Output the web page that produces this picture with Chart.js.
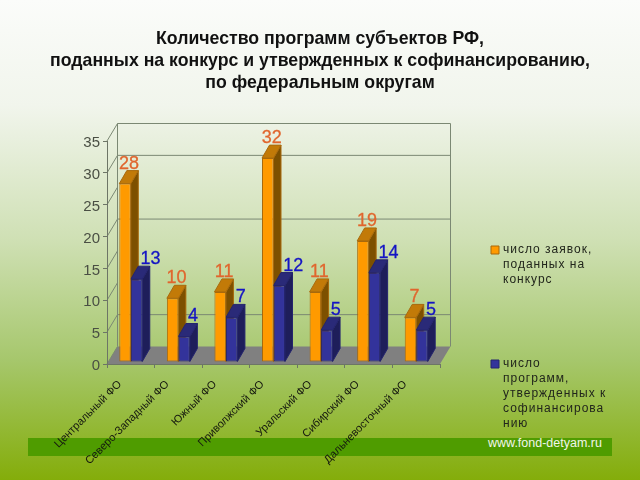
<!DOCTYPE html>
<html lang="ru">
<head>
<meta charset="utf-8">
<title>Программы субъектов РФ</title>
<script src="https://cdn.jsdelivr.net/npm/chart.js@4"></script>
<style>
  html, body { margin: 0; padding: 0; }
  body {
    width: 640px; height: 480px; position: relative; overflow: hidden;
    background: linear-gradient(to bottom, #fbfcfa 0%, #f1f5ec 22%, #cfe0b4 50%, #a6c76c 75%, #84ad0a 100%);
    font-family: "Liberation Sans", sans-serif;
  }
  #band { position: absolute; left: 28px; top: 438px; width: 584px; height: 18px; background: #4f9c00; }
  #site { position: absolute; left: 488px; top: 434px; font-size: 12.5px; line-height: 18px; color: #f2f6ea; }
  #chart { position: absolute; left: 0; top: 0; }
</style>
</head>
<body>
<div id="band"></div>
<div id="site">www.fond-detyam.ru</div>
<canvas id="chart" width="640" height="480"></canvas>
<script>
const okruga = ['Центральный ФО', 'Северо-Западный ФО', 'Южный ФО', 'Приволжский ФО', 'Уральский ФО', 'Сибирский ФО', 'Дальневосточный ФО'];
const zayavki = [28, 10, 11, 32, 11, 19, 7];
const utverzhdeno = [13, 4, 7, 12, 5, 14, 5];
const yTicks = [0, 5, 10, 15, 20, 25, 30, 35];
const wallLines = [5, 20, 30, 35];
const titleLines = ['Количество программ субъектов РФ,', 'поданных на конкурс и утвержденных к софинансированию,', 'по федеральным округам'];
const legendZayavki = ['число заявок,', 'поданных на', 'конкурс'];
const legendUtverzhdeno = ['число', 'программ,', 'утвержденных к', 'софинансирова', 'нию'];

// глубина "3D" стены и столбиков
const WALL_DX = 10.5, WALL_DY = -17.5;
const BAR_DX = 7.5, BAR_DY = -13;

const colors = [
    { front: '#ff9a00', border: '#a8690c', top: '#c27a08', side: '#7d5000', label: '#e0662e' },
    { front: '#33339b', border: '#24246e', top: '#2a2a78', side: '#1e1e5a', label: '#1414c4' }
];

function poly(ctx, pts, fill, stroke) {
    ctx.beginPath();
    pts.forEach((p, i) => i ? ctx.lineTo(p[0], p[1]) : ctx.moveTo(p[0], p[1]));
    ctx.closePath();
    if (fill) { ctx.fillStyle = fill; ctx.fill(); }
    if (stroke) { ctx.strokeStyle = stroke; ctx.lineWidth = 1; ctx.stroke(); }
}

function line(ctx, x1, y1, x2, y2) {
    ctx.beginPath();
    ctx.moveTo(x1, y1);
    ctx.lineTo(x2, y2);
    ctx.stroke();
}

// задняя стенка и пол
const wallPlugin = {
    id: 'wall',
    afterLayout(chart) {
        // заголовок по центру всего слайда, а не области графика
        chart.titleBlock.left = 0;
        chart.titleBlock.right = chart.width;
    },
    beforeDraw(chart) {
        const { ctx, chartArea: a, scales: { y } } = chart;
        const y0 = y.getPixelForValue(0);
        ctx.save();
        poly(ctx, [[a.left, y0], [a.left + WALL_DX, y0 + WALL_DY], [a.right + WALL_DX, y0 + WALL_DY], [a.right, y0]], '#808080');
        ctx.strokeStyle = '#7b8873';
        ctx.lineWidth = 1;
        yTicks.forEach(v => {
            const py = y.getPixelForValue(v);
            line(ctx, a.left, py, a.left + WALL_DX, py + WALL_DY);
        });
        wallLines.forEach(v => {
            const py = y.getPixelForValue(v) + WALL_DY;
            line(ctx, a.left + WALL_DX, py, a.right + WALL_DX, py);
        });
        const top = y.getPixelForValue(35) + WALL_DY;
        line(ctx, a.right + WALL_DX, top, a.right + WALL_DX, y0 + WALL_DY);
        line(ctx, a.left + WALL_DX, top, a.left + WALL_DX, y0 + WALL_DY);
        ctx.restore();
    }
};

// грани столбиков, подписи и легенда
const barsPlugin = {
    id: 'bars3d',
    beforeDatasetsDraw(chart) {
        const ctx = chart.ctx;
        ctx.save();
        ctx.translate(0, -2);
        chart.data.datasets.forEach((ds, i) => {
            const c = colors[i];
            chart.getDatasetMeta(i).data.forEach(bar => {
                const l = bar.x - bar.width / 2, r = bar.x + bar.width / 2;
                poly(ctx, [[r, bar.y], [r + BAR_DX, bar.y + BAR_DY], [r + BAR_DX, bar.base + BAR_DY], [r, bar.base]], c.side, c.border);
                poly(ctx, [[l, bar.y], [l + BAR_DX, bar.y + BAR_DY], [r + BAR_DX, bar.y + BAR_DY], [r, bar.y]], c.top, c.border);
            });
        });
    },
    afterDatasetsDraw(chart) {
        const ctx = chart.ctx;
        const labelDx = [4, 4];
        const labelAlign = ['center', 'left'];
        ctx.font = '18px "Liberation Sans"';
        ctx.textBaseline = 'middle';
        ctx.lineWidth = 0.3;
        chart.data.datasets.forEach((ds, i) => {
            ctx.fillStyle = colors[i].label;
            ctx.strokeStyle = colors[i].label;
            ctx.textAlign = labelAlign[i];
            chart.getDatasetMeta(i).data.forEach((bar, j) => {
                ctx.fillText(ds.data[j], bar.x + labelDx[i], bar.y - 20);
                ctx.strokeText(ds.data[j], bar.x + labelDx[i], bar.y - 20);
            });
        });
        ctx.restore();

        ctx.save();
        ctx.textAlign = 'left';
        ctx.textBaseline = 'middle';
        ctx.font = '12px "Liberation Sans"';
        ctx.letterSpacing = '1px';
        [[legendZayavki, 250], [legendUtverzhdeno, 364]].forEach(([lines, top], i) => {
            poly(ctx, [[491, top - 4], [499, top - 4], [499, top + 4], [491, top + 4]], colors[i].front, colors[i].border);
            ctx.fillStyle = '#22261c';
            lines.forEach((t, n) => ctx.fillText(t, 503, top + n * 15));
        });
        ctx.restore();
    }
};

new Chart(document.getElementById('chart'), {
    type: 'bar',
    data: {
        labels: okruga,
        datasets: [
            { label: 'число заявок, поданных на конкурс', data: zayavki, backgroundColor: colors[0].front, borderColor: colors[0].border, borderWidth: 1, borderSkipped: false },
            { label: 'число программ, утвержденных к софинансированию', data: utverzhdeno, backgroundColor: colors[1].front, borderColor: colors[1].border, borderWidth: 1, borderSkipped: false }
        ]
    },
    options: {
        responsive: false,
        animation: false,
        layout: { padding: { right: 200, left: 0, top: 0, bottom: 0 } },
        datasets: { bar: { categoryPercentage: 0.483, barPercentage: 1 } },
        scales: {
            x: {
                afterFit: s => { s.height = 116; },
                grid: { drawOnChartArea: false, color: '#6d7566', tickLength: 4, offset: true },
                border: { color: '#6d7566' },
                ticks: { color: '#15180f', font: { family: 'Liberation Sans', size: 11 }, minRotation: 45, maxRotation: 45, autoSkip: false, padding: 10, labelOffset: -11 }
            },
            y: {
                min: 0,
                max: 35,
                afterFit: s => { s.width = 107; },
                grid: { drawOnChartArea: false, color: '#6d7566', tickLength: 4 },
                border: { color: '#6d7566' },
                ticks: { stepSize: 5, color: '#4a4f44', font: { family: 'Liberation Sans', size: 15 }, padding: 3, labelOffset: 2 }
            }
        },
        plugins: {
            legend: { display: false },
            tooltip: { enabled: false },
            title: {
                display: true,
                text: titleLines,
                color: '#111',
                font: { family: 'Liberation Sans', size: 17.7, weight: 'bold', lineHeight: 1.243 },
                padding: { top: 28, bottom: 47 },
                align: 'center',
                fullSize: true
            }
        }
    },
    plugins: [wallPlugin, barsPlugin]
});
</script>
</body>
</html>
